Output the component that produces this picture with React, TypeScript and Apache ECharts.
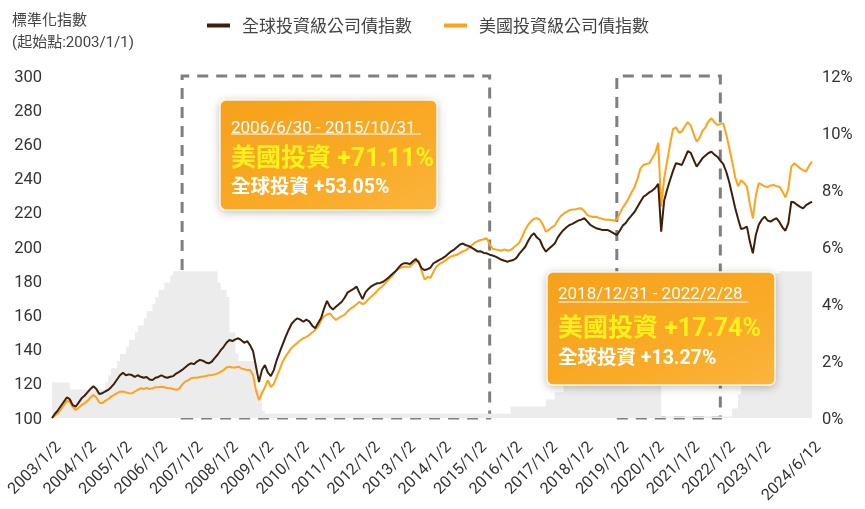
import React, { useEffect, useRef } from "react";
import * as echarts from "echarts";

const FONT = "Roboto, 'Noto Sans CJK TC', 'Noto Sans', sans-serif";

// Monthly categories from 2003/1 to 2024/6 (last point 2024/6/12)
const years = [2003, 2004, 2005, 2006, 2007, 2008, 2009, 2010, 2011, 2012, 2013, 2014, 2015, 2016, 2017, 2018, 2019, 2020, 2021, 2022, 2023, 2024];
const categories: string[] = [];
years.forEach((y) => {
  for (let m = 1; m <= 12; m++) {
    if (y === 2024 && m > 6) break;
    categories.push(m === 1 ? `${y}/1/2` : `${y}/${m}/1`);
  }
});
categories[categories.length - 1] = "2024/6/12";

const seriesNames = ["全球投資級公司債指數", "美國投資級公司債指數"];

// 全球投資級公司債指數 (normalised, start = 100)
const globalIdx = [
  100, 102.5, 104.5, 107, 109.5, 112, 111, 107.5, 106.6, 109, 111.5, 113,
  115, 117, 118.5, 117, 114, 114.5, 115.5, 116.4, 118, 120, 122.5, 125,
  126.5, 125, 125.5, 125.1, 124, 125, 124.1, 123.5, 124, 122.5, 122.2, 123.5,
  124, 125, 124, 123.5, 124.1, 124.5, 126, 127, 128.1, 129.5, 131, 132,
  131.5, 133, 134, 133.5, 132.5, 132, 132.9, 135, 137, 139.5, 141.5, 144,
  145.6, 145, 146, 146.6, 145.5, 144, 145, 142.5, 139, 130, 121, 128,
  131, 126.5, 124.5, 128, 133.9, 138.5, 143, 147.5, 151.5, 155, 157, 158.3,
  157.5, 156.3, 157.5, 156.5, 154, 152.5, 155.5, 158.5, 164, 168.5, 165, 163.5,
  165, 166.5, 168, 170.5, 173.5, 174.5, 175.5, 176.8, 173, 169.5, 173.5, 175.5,
  177, 178, 178.8, 179, 179.7, 181, 182.5, 184, 185.5, 187.5, 189.5, 190.5,
  190.5, 190, 191.5, 193, 191, 187.5, 186.5, 187, 188, 190.5, 191.5, 192.5,
  193.4, 194.5, 196, 197.5, 198.5, 200, 201.5, 202, 201, 200.5, 199.5, 198.5,
  197.3, 197.5, 196.5, 196.3, 195.5, 195, 194.4, 193.5, 192.5, 192, 191.4, 192,
  192.4, 193.5, 196, 198, 200, 203.5, 206.5, 208, 205.5, 204.1, 200, 197.3,
  199, 200.5, 202, 205.5, 208, 210, 211.5, 212.9, 213.5, 214.5, 215.5, 216,
  216.8, 215, 213, 211.9, 211, 210.5, 210, 210, 209.9, 209, 208, 207,
  209.5, 212.5, 214, 216.5, 218.5, 220.5, 223.5, 226.5, 229.4, 230.5, 232, 233,
  234.5, 237, 209, 227, 233.5, 239.2, 244.5, 249, 248.5, 248, 252, 256,
  255, 251, 247, 249.5, 252, 253.5, 255, 255.7, 254, 252.8, 250.5, 248.5,
  244, 238, 230.5, 223, 216.5, 210.5, 211, 211.9, 203, 196.3, 207, 213,
  216, 217.7, 215.5, 214.8, 216, 216.8, 214.5, 211.5, 209.5, 214, 226.5, 226,
  224.6, 223.5, 222.6, 224.5, 225.5, 226.5,
];

// 美國投資級公司債指數 (normalised, start = 100)
const usIdx = [
  100, 101.5, 102.8, 105, 107.5, 110, 109.5, 106.5, 104.7, 106, 107.5, 108.6,
  110, 112, 113.5, 112, 109, 108.6, 110, 111, 112.5, 113.5, 114.5, 115.4,
  115.5, 115, 114.5, 114.4, 115.5, 116.5, 117.4, 117, 117.5, 117, 117.4, 118,
  118, 118.3, 118, 117.5, 117.4, 117, 116.5, 117, 119.5, 121.2, 122, 123.2,
  123.5, 123.5, 124, 124.2, 124.5, 125, 125.1, 125.5, 126, 127, 128, 129.5,
  130, 129.5, 129.5, 130, 129, 128.5, 128, 128, 125, 116, 110.5, 114.5,
  118, 122, 118, 120, 124.2, 128.5, 133, 136, 138.5, 141, 142.5, 144,
  145.5, 146.6, 147.5, 148.5, 150, 151.5, 153.5, 157, 159.5, 160.5, 161.2, 159,
  157.3, 158.5, 159.5, 160.5, 162.5, 164, 165.1, 166.5, 168, 166.5, 167.5, 169.5,
  171, 172.5, 174.5, 176, 177.5, 179.5, 181.2, 183, 185.5, 187, 188, 188.5,
  188.5, 188.5, 190, 191.5, 192, 186, 181, 182.5, 182, 185.5, 188.5, 190,
  191, 192, 193.5, 194.5, 195, 195.5, 196.5, 197.5, 198.2, 199.5, 201, 202.5,
  203.5, 204.1, 204.5, 205.1, 201.5, 199, 198.5, 198.2, 198, 198.5, 198, 198.2,
  199.5, 201, 202.5, 206, 210, 213, 215, 216.5, 216.8, 216, 213, 209,
  210, 211.5, 212.5, 215.5, 218, 219.5, 220.5, 221.5, 222, 222, 222.5, 222.6,
  221, 218.7, 218, 217.5, 217.7, 217, 216.5, 216, 216, 215.8, 215.5, 216,
  219.5, 223, 225.5, 228.5, 232, 235, 240, 246, 248, 248.5, 249, 252,
  255, 261, 223.6, 240, 250, 260, 269, 270, 267, 267.5, 270.5, 273,
  271, 266, 261.6, 264, 268, 270, 273.5, 275.3, 273, 271.3, 272, 272.3,
  266, 258, 250, 241, 235.5, 239, 237.5, 235.3, 225, 216.8, 230, 237.3,
  236.5, 235.5, 235, 236, 236.3, 235.5, 235.3, 232.5, 229, 234, 247, 249,
  247.5, 246, 245, 244.1, 247.5, 249.9,
];

// Policy rate (%), right axis, grey area
const rate = [
  1.25, 1.25, 1.25, 1.25, 1.25, 1.25, 1, 1, 1, 1, 1, 1,
  1, 1, 1, 1, 1, 1, 1.25, 1.5, 1.75, 1.75, 2, 2.25,
  2.25, 2.5, 2.75, 2.75, 3, 3.25, 3.25, 3.5, 3.75, 3.75, 4, 4.25,
  4.5, 4.5, 4.75, 4.75, 5, 5.15, 5.15, 5.15, 5.15, 5.15, 5.15, 5.15,
  5.15, 5.15, 5.15, 5.15, 5.15, 5.15, 5.15, 5.15, 4.75, 4.5, 4.5, 4.25,
  3, 3, 2.25, 2, 2, 2, 2, 2, 2, 1, 1, 0.25,
  0.15, 0.15, 0.15, 0.15, 0.15, 0.15, 0.15, 0.15, 0.15, 0.15, 0.15, 0.15,
  0.15, 0.15, 0.15, 0.15, 0.15, 0.15, 0.15, 0.15, 0.15, 0.15, 0.15, 0.15,
  0.15, 0.15, 0.15, 0.15, 0.15, 0.15, 0.15, 0.15, 0.15, 0.15, 0.15, 0.15,
  0.15, 0.15, 0.15, 0.15, 0.15, 0.15, 0.15, 0.15, 0.15, 0.15, 0.15, 0.15,
  0.15, 0.15, 0.15, 0.15, 0.15, 0.15, 0.15, 0.15, 0.15, 0.15, 0.15, 0.15,
  0.15, 0.15, 0.15, 0.15, 0.15, 0.15, 0.15, 0.15, 0.15, 0.15, 0.15, 0.15,
  0.15, 0.15, 0.15, 0.15, 0.15, 0.15, 0.15, 0.15, 0.15, 0.15, 0.15, 0.4,
  0.4, 0.4, 0.4, 0.4, 0.4, 0.4, 0.4, 0.4, 0.4, 0.4, 0.4, 0.65,
  0.65, 0.65, 0.9, 0.9, 0.9, 1.15, 1.15, 1.15, 1.15, 1.15, 1.15, 1.4,
  1.4, 1.4, 1.65, 1.65, 1.65, 1.9, 1.9, 1.9, 2.15, 2.15, 2.15, 2.4,
  2.4, 2.4, 2.4, 2.4, 2.4, 2.4, 2.4, 2.15, 1.9, 1.65, 1.55, 1.55,
  1.55, 1.55, 0.05, 0.05, 0.05, 0.05, 0.05, 0.05, 0.05, 0.05, 0.05, 0.05,
  0.05, 0.05, 0.05, 0.05, 0.05, 0.05, 0.05, 0.05, 0.05, 0.05, 0.05, 0.05,
  0.05, 0.05, 0.33, 0.33, 0.83, 1.58, 2.33, 2.33, 3.08, 3.08, 3.83, 4.33,
  4.33, 4.58, 4.83, 4.83, 5.08, 5.08, 5.15, 5.15, 5.15, 5.15, 5.15, 5.15,
  5.15, 5.15, 5.15, 5.15, 5.15, 5.15,
];

// highlighted periods (category indices of the dashed boxes)
const periodBoxes = [
  [44, 148],
  [191, 226],
];

const annotations = [
  { period: "2006/6/30 - 2015/10/31", us: "美國投資 +71.11%", global: "全球投資 +53.05%" },
  { period: "2018/12/31 - 2022/2/28", us: "美國投資 +17.74%", global: "全球投資 +13.27%" },
];

function annotationBox(
  x: number, y: number, w: number, h: number,
  a: { period: string; us: string; global: string },
  ulw: number, ys: number[]
) {
  const Z = 100;
  return {
    type: "group",
    x,
    y,
    z: Z,
    children: [
      {
        type: "rect",
        z: Z,
        shape: { x: 0, y: 0, width: w, height: h, r: 6 },
        style: {
          fill: new echarts.graphic.LinearGradient(0, 0, 1, 1, [
            { offset: 0, color: "#f6a11c" },
            { offset: 0.6, color: "#f9aa26" },
            { offset: 1, color: "#fbb43c" },
          ]),
          stroke: "#fff4e0",
          lineWidth: 1.5,
          shadowBlur: 8,
          shadowColor: "rgba(0,0,0,0.25)",
          shadowOffsetY: 2,
        },
      },
      {
        type: "text",
        z: Z + 1,
        x: 11,
        y: ys[0],
        style: { text: a.period, fill: "#ffffff", font: `17px ${FONT}`, verticalAlign: "middle" },
      },
      {
        type: "line",
        z: Z + 1,
        shape: { x1: 11, y1: ys[1], x2: 11 + ulw, y2: ys[1] },
        style: { stroke: "#ffffff", lineWidth: 1 },
      },
      {
        type: "text",
        z: Z + 1,
        x: 11,
        y: ys[2],
        style: { text: a.us, fill: "#fff21a", font: `bold 25px ${FONT}`, verticalAlign: "middle" },
      },
      {
        type: "text",
        z: Z + 1,
        x: 11,
        y: ys[3],
        style: { text: a.global, fill: "#ffffff", font: `bold 19.5px ${FONT}`, verticalAlign: "middle" },
      },
    ],
  };
}

export default function App() {
  const ref = useRef<HTMLDivElement>(null);
  useEffect(() => {
    if (!ref.current) return;
    const chart = echarts.init(ref.current, undefined, { renderer: "svg" });
    const last = categories.length - 1;
    chart.setOption({
      animation: false,
      textStyle: { fontFamily: FONT },
      grid: { left: 52, right: 53, top: 76, bottom: 91, containLabel: false, outerBoundsMode: "none" },
      legend: {
        data: seriesNames,
        top: 12,
        left: 202,
        icon: "rect",
        itemWidth: 23,
        itemHeight: 4,
        itemGap: 32,
        textStyle: { fontSize: 17, color: "#444", fontFamily: FONT, padding: [0, 0, 0, 7] },
      },
      xAxis: {
        type: "category",
        data: categories,
        boundaryGap: false,
        axisLine: { show: false },
        axisTick: { show: false },
        splitLine: { show: false },
        axisLabel: {
          interval: (i: number) => (i % 12 === 0 && i < 252) || i === last,
          rotate: 45,
          fontSize: 16,
          color: "#333",
          margin: 20,
          verticalAlign: "top",
          fontFamily: FONT,
        },
      },
      yAxis: [
        {
          type: "value",
          min: 100,
          max: 300,
          interval: 20,
          axisLine: { show: false },
          axisTick: { show: false },
          splitLine: { show: false },
          axisLabel: { fontSize: 16.5, color: "#333", margin: 10, fontFamily: FONT },
        },
        {
          type: "value",
          min: 0,
          max: 12,
          interval: 2,
          position: "right",
          axisLine: { show: false },
          axisTick: { show: false },
          splitLine: { show: false },
          axisLabel: { fontSize: 16.5, color: "#333", margin: 10, formatter: "{value}%", fontFamily: FONT },
        },
      ],
      graphic: [
        { type: "text", left: 12, top: 12, style: { text: "標準化指數", fill: "#444", font: `15px ${FONT}` } },
        { type: "text", left: 12, top: 34, style: { text: "(起始點:2003/1/1)", fill: "#444", font: `15px ${FONT}` } },
        annotationBox(220, 100, 217, 110, annotations[0], 190, [27, 34, 57, 86]),
        annotationBox(547, 272, 228, 113, annotations[1], 190, [21, 30, 55, 85]),
      ],
      series: [
        {
          name: "利率",
          type: "line",
          yAxisIndex: 1,
          data: rate,
          step: "end",
          symbol: "none",
          silent: true,
          lineStyle: { width: 0 },
          itemStyle: { color: "#ececec" },
          areaStyle: { color: "#ececec", opacity: 1 },
          z: 1,
        },
        {
          name: seriesNames[1],
          type: "line",
          data: usIdx,
          symbol: "none",
          lineStyle: { width: 2, color: "#ffa31a" },
          itemStyle: { color: "#ffa31a" },
          z: 3,
        },
        {
          name: seriesNames[0],
          type: "line",
          data: globalIdx,
          symbol: "none",
          clip: false,
          lineStyle: { width: 2, color: "#3e1f0c" },
          itemStyle: { color: "#3e1f0c" },
          z: 4,
          markArea: {
            silent: true,
            itemStyle: {
              color: "rgba(0,0,0,0)",
              borderColor: "#7f7f7f",
              borderWidth: 3,
              borderType: [11, 8],
            },
            data: periodBoxes.map(([a, b]) => [
              { xAxis: categories[a], yAxis: 100 },
              { xAxis: categories[b], yAxis: 302.5 },
            ]),
          },
        },
      ],
    });
    return () => chart.dispose();
  }, []);
  return <div ref={ref} style={{ position: "fixed", left: 0, top: 0, width: 865, height: 509 }} />;
}
